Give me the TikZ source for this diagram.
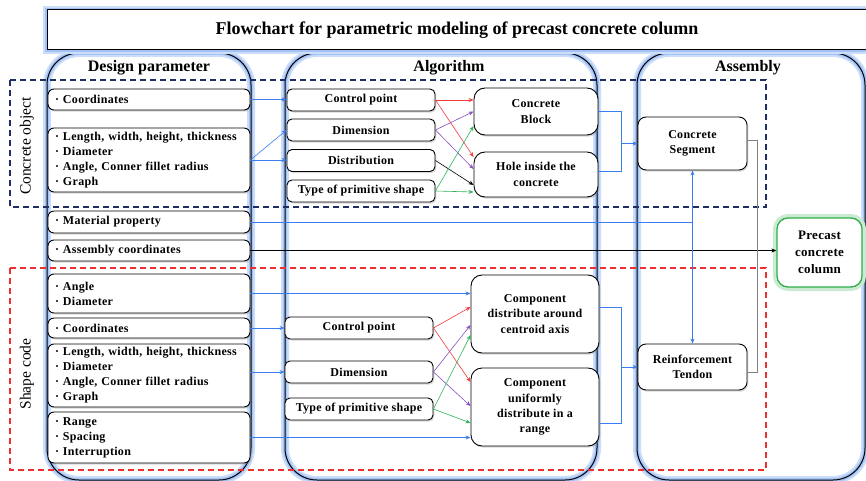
\documentclass[tikz,border=0pt]{standalone}
\usepackage{fontspec}
\setmainfont{Liberation Serif}
\newfontfamily\boxfont[LetterSpace=2.5]{Liberation Serif}
\usetikzlibrary{arrows.meta,calc,positioning,shadows}
\definecolor{glow}{HTML}{A3C2F5}
\definecolor{linkblue}{HTML}{3A7DF0}
\definecolor{navy}{HTML}{1F2F66}
\definecolor{dashred}{HTML}{F03030}
\definecolor{linkred}{HTML}{F23A3A}
\definecolor{linkpurple}{HTML}{8A4FC0}
\definecolor{linkgreen}{HTML}{2DB35A}
\definecolor{framegreen}{HTML}{2EAD4B}

\begin{document}
\begin{tikzpicture}[x=1pt, y=-1pt, >={Stealth[length=5pt,width=4pt]},
  column/.style={draw=black, line width=1pt, rounded corners=32pt, inner sep=0pt,
    preaction={draw=glow!55, line width=8pt}, preaction={draw=glow, line width=4pt}},
  header/.style={font=\fontsize{16}{19}\selectfont\bfseries},
  shade/.style={drop shadow={shadow xshift=1.3pt, shadow yshift=-1.6pt, opacity=0.3}},
  parbox/.style={draw, line width=0.9pt, rounded corners=6pt, fill=white, shade,
    text width=188pt, inner xsep=7pt, inner ysep=0pt, align=left,
    font=\boxfont\fontsize{12}{15}\selectfont\bfseries},
  stepbox/.style={draw, line width=0.9pt, rounded corners=5pt, fill=white, shade,
    minimum width=148pt, minimum height=22pt, inner sep=0pt,
    font=\boxfont\fontsize{12}{14}\selectfont\bfseries},
  outbox/.style={draw, line width=0.9pt, rounded corners=11pt, fill=white, shade,
    inner sep=0pt, align=center, font=\boxfont\fontsize{12}{15.3}\selectfont\bfseries},
  link/.style={->, linkblue, line width=0.6pt}
]
\useasboundingbox (0,0) rectangle (866,481);

\node[column, minimum width=204pt, minimum height=427pt] (colDesign) at (149,266.5) {};
\node[column, minimum width=312pt, minimum height=427pt] (colAlgo) at (441,266.5) {};
\node[column, minimum width=228pt, minimum height=427pt] (colAsm) at (751,266.5) {};
\node[column, rounded corners=0pt, fill=white, minimum width=825pt, minimum height=40pt] (title) at (459.5,30) {};
\node[font=\fontsize{18}{21}\selectfont\bfseries] (titleText) at (457,30) {Flowchart for parametric modeling of precast concrete column};
\node[header] (hDesign) at (149,68) {Design parameter};
\node[header] (hAlgo) at (449,68) {Algorithm};
\node[header] (hAsm) at (748,68) {Assembly};

\draw[navy, line width=1.2pt, dash pattern=on 6pt off 4pt] (10,80) rectangle (766,207);
\draw[dashred, line width=1.2pt, dash pattern=on 6pt off 4pt] (10,268) rectangle (766,470);
\node[rotate=90, font=\fontsize{15.5}{18}\selectfont] (lObject) at (27,146) {Concrete object};
\node[rotate=90, font=\fontsize{15.5}{18}\selectfont] (lShape) at (27,374) {Shape code};

\node[parbox, minimum height=21pt] (pCoordA) at (149,99.5) {· Coordinates};
\node[parbox, minimum height=64pt] (pSizeA) at (149,160) {· Length, width, height, thickness\\· Diameter\\· Angle, Conner fillet radius\\· Graph};
\node[parbox, minimum height=22pt] (pMaterial) at (149,222) {· Material property};
\node[parbox, minimum height=21pt] (pAssembly) at (149,250.5) {· Assembly coordinates};
\node[parbox, minimum height=39pt] (pAngle) at (149,293.5) {· Angle\\· Diameter};
\node[parbox, minimum height=20pt] (pCoordB) at (149,328) {· Coordinates};
\node[parbox, minimum height=63pt] (pSizeB) at (149,375.5) {· Length, width, height, thickness\\· Diameter\\· Angle, Conner fillet radius\\· Graph};
\node[parbox, minimum height=51pt] (pRange) at (149,437.5) {· Range\\· Spacing\\· Interruption};

\node[stepbox] (aPointA) at (361,100) {Control point};
\node[stepbox] (aDimA) at (361,130) {Dimension};
\node[stepbox] (aDistA) at (361,160.5) {Distribution};
\node[stepbox] (aTypeA) at (361,191) {Type of primitive shape};
\node[outbox, minimum width=124pt, minimum height=47pt] (aBlock) at (536,111.5) {Concrete\\Block};
\node[outbox, minimum width=124pt, minimum height=45pt] (aHole) at (536,174.5) {Hole inside the\\concrete};

\node[stepbox] (aPointB) at (359,328) {Control point};
\node[stepbox] (aDimB) at (359,372) {Dimension};
\node[stepbox] (aTypeB) at (359,409) {Type of primitive shape};
\node[outbox, minimum width=128pt, minimum height=78pt] (aAround) at (535,314) {Component\\distribute around\\centroid axis};
\node[outbox, minimum width=128pt, minimum height=78pt] (aRange) at (535,407) {Component\\uniformly\\distribute in a\\range};

\node[outbox, rounded corners=8pt, minimum width=109pt, minimum height=53pt] (sSegment) at (692.5,143.5) {Concrete\\Segment};
\node[outbox, rounded corners=8pt, minimum width=109pt, minimum height=46pt] (sTendon) at (692.5,367) {Reinforcement\\Tendon};
\node[outbox, draw=framegreen, line width=1.3pt, minimum width=85pt, minimum height=69pt,
  preaction={draw=framegreen!25, line width=8pt}, font=\boxfont\fontsize{13}{17}\selectfont\bfseries]
  (sColumn) at (819.5,252.5) {Precast\\concrete\\column};

\draw[link] (pCoordA.east) -- (pCoordA.east -| aPointA.west);
\draw[link] (pSizeA.east) -- (aDimA.west);
\draw[link] (pSizeA.east) -- (pSizeA.east -| aDistA.west);
\draw[link, -] (pMaterial.east) -- (pMaterial.east -| sSegment.south);
\draw[->, line width=0.6pt] (pAssembly.east) -- (pAssembly.east -| sColumn.west);
\draw[link] (pAngle.east) -- (pAngle.east -| aAround.west);
\draw[link] (pCoordB.east) -- (pCoordB.east -| aPointB.west);
\draw[link] (aDimB.west -| pSizeB.east) -- (aDimB.west);
\draw[link] (pRange.east) -- (pRange.east -| aRange.west);

\draw[->, linkred, line width=0.6pt] (aPointA.east) -- ([yshift=11.5pt]aBlock.west);
\draw[->, linkred, line width=0.6pt] (aPointA.east) -- ([yshift=17.5pt]aHole.west);
\draw[->, linkpurple, line width=0.6pt] (aDimA.east) -- (aBlock.west);
\draw[->, linkpurple, line width=0.6pt] (aDimA.east) -- ([yshift=5.5pt]aHole.west);
\draw[->, line width=0.6pt] (aDistA.east) -- ([yshift=-10.5pt]aHole.west);
\draw[->, linkgreen, line width=0.6pt] (aTypeA.east) -- ([yshift=-14.5pt]aBlock.west);
\draw[->, linkgreen, line width=0.6pt] (aTypeA.east) -- ([yshift=-17.5pt]aHole.west);

\draw[->, linkred, line width=0.6pt] (aPointB.east) -- ([yshift=7pt]aAround.west);
\draw[->, linkred, line width=0.6pt] (aPointB.east) -- ([yshift=25pt]aRange.west);
\draw[->, linkpurple, line width=0.6pt] (aDimB.east) -- ([yshift=-11pt]aAround.west);
\draw[->, linkpurple, line width=0.6pt] (aDimB.east) -- ([yshift=1pt]aRange.west);
\draw[->, linkgreen, line width=0.6pt] (aTypeB.east) -- ([yshift=-21pt]aAround.west);
\draw[->, linkgreen, line width=0.6pt] (aTypeB.east) -- ([yshift=-16pt]aRange.west);

\draw[link, -] (aBlock.east) -- ++(23,0) coordinate (jTop) |- ([yshift=3.5pt]aHole.east);
\draw[link] (jTop |- sSegment.west) -- (sSegment.west);
\draw[link, -] ([yshift=7pt]aAround.east) -- ++(22,0) coordinate (jLow) |- ([yshift=-16pt]aRange.east);
\draw[link] (jLow |- sTendon.west) -- (sTendon.west);
\draw[link, <->] (sSegment.south) -- (sTendon.north);
\draw[gray, line width=0.7pt] ([yshift=3.5pt]sSegment.east) -- ++(10,0) |- ([yshift=-5pt]sTendon.east);
\end{tikzpicture}
\end{document}
